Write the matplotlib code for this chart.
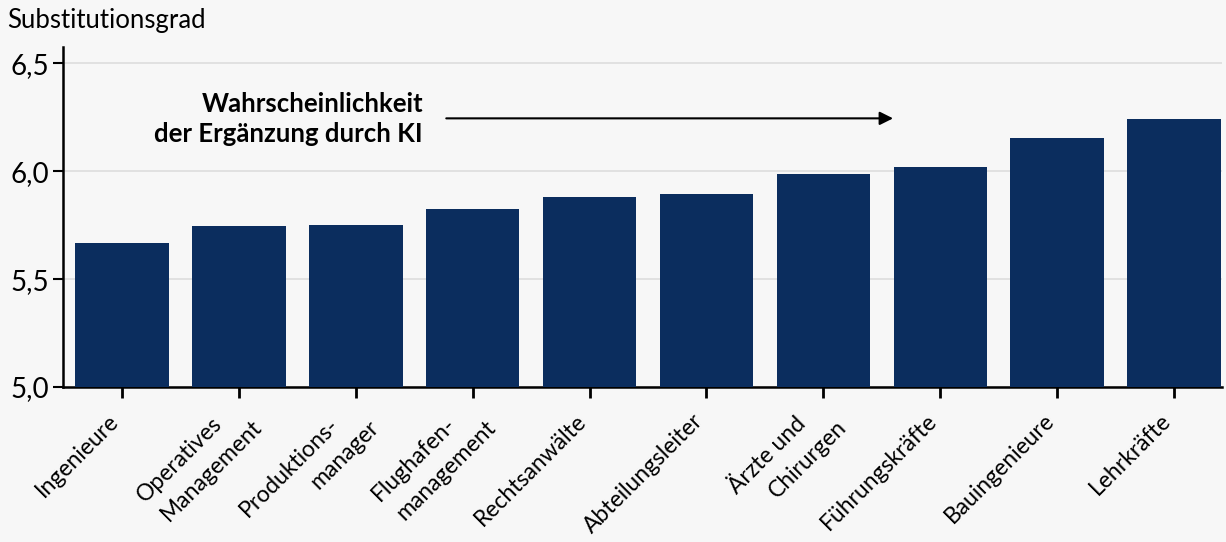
import matplotlib
matplotlib.use("Agg")
import matplotlib.pyplot as plt
from matplotlib.ticker import FuncFormatter
from matplotlib.transforms import ScaledTranslation

berufe = ["Ingenieure", "Operatives\nManagement", "Produktions-\nmanager",
          "Flughafen-\nmanagement", "Rechtsanwälte", "Abteilungsleiter",
          "Ärzte und\nChirurgen", "Führungskräfte", "Bauingenieure", "Lehrkräfte"]
substitution = [5.667, 5.745, 5.75, 5.824, 5.88, 5.894, 5.986, 6.019, 6.153, 6.24]
yticks = [5.0, 5.5, 6.0, 6.5]

plt.rcParams["font.family"] = ["Lato", "DejaVu Sans"]
bg = "#f7f7f7"

fig = plt.figure(figsize=(12.26, 5.42), dpi=100, facecolor=bg)
ax = fig.add_axes([0.0514, 0.286, 0.9453, 0.627], facecolor=bg)

x = range(len(berufe))
ax.bar(x, substitution, width=0.8, color="#0b2d5e", zorder=3)

ax.set_xlim(-0.505, 9.41)
ax.set_ylim(5.0, 6.575)
ax.set_yticks(yticks)
ax.yaxis.set_major_formatter(FuncFormatter(lambda v, p: f"{v:.1f}".replace(".", ",")))
ax.grid(axis="y", color="#dddddd", linewidth=1.2, zorder=0)

ax.set_xticks(list(x))
ax.set_xticklabels([])
ax.tick_params(axis="x", length=8, width=2)
ax.tick_params(axis="y", length=7, width=1.5, labelsize=20, pad=3)

# Beschriftungen zeilenweise (Pixelversatz ab Tick), zweite Zeile nach rechts versetzt
for i, lab in enumerate(berufe):
    zeilen = lab.split("\n")
    n = len(zeilen)
    bx, by = (-2, 35) if n == 1 else (4, 40)
    for k, z in enumerate(zeilen):
        f = k - (n - 1) / 2
        dx = bx + f * 40
        dy = by + f * 3
        tr = ax.get_xaxis_transform() + ScaledTranslation(dx / 100, -dy / 100, fig.dpi_scale_trans)
        ax.text(i, 0, z, transform=tr, rotation=45, ha="right", va="baseline",
                rotation_mode="anchor", fontsize=16.5, clip_on=False)

for s in ["top", "right"]:
    ax.spines[s].set_visible(False)
ax.spines["left"].set_linewidth(1.8)
ax.spines["bottom"].set_linewidth(1.8)

fig.text(0.006, 0.963, "Substitutionsgrad", fontsize=18.5, va="center", ha="left")

ax.annotate("", xy=(6.62, 6.245), xytext=(2.75, 6.245),
            arrowprops=dict(arrowstyle="-|>", color="black", lw=1.5,
                            mutation_scale=20))
ax.text(2.575, 6.24, "Wahrscheinlichkeit\nder Ergänzung durch KI", ha="right",
        va="center", fontsize=18.5, fontweight="bold", linespacing=1.3)

fig.savefig("out.png", dpi=100, facecolor=bg)
